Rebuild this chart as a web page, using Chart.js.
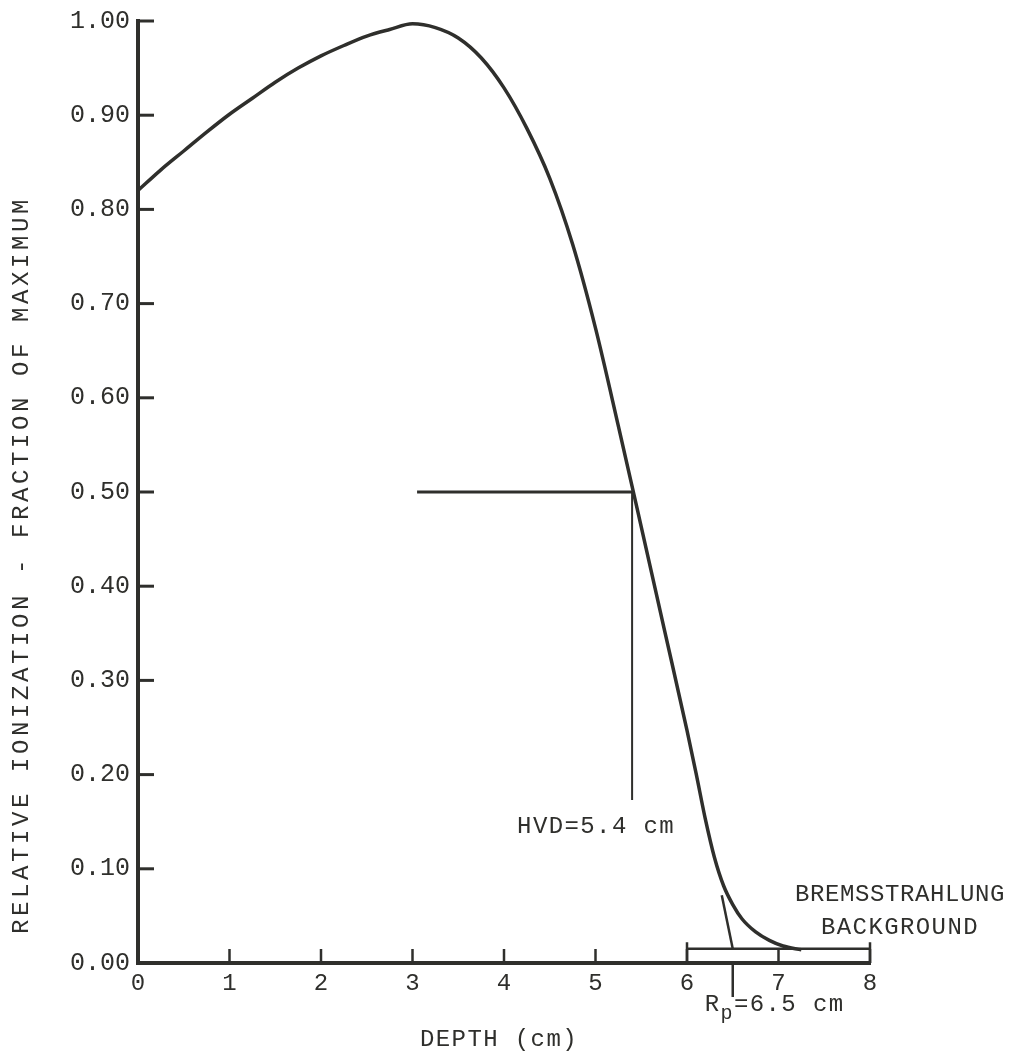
<!DOCTYPE html>
<html>
<head>
<meta charset="utf-8">
<script src="https://cdn.jsdelivr.net/npm/chart.js@4.4.1/dist/chart.umd.min.js"></script>
<style>
  html, body { margin: 0; padding: 0; background: #fff; }
  #wrap { width: 1019px; height: 1064px; position: relative; }
</style>
</head>
<body>
<div id="wrap"><canvas id="grafico"></canvas></div>
<script>
// curva de ionização relativa
const depth = [0, 0.25, 0.5, 0.75, 1.0, 1.25, 1.5, 1.75, 2.0, 2.25, 2.5, 2.75, 3.0, 3.25, 3.5, 3.75, 4.0, 4.25, 4.5, 4.75, 5.0, 5.25, 5.5, 5.75, 6.0, 6.1, 6.2, 6.3, 6.4, 6.5, 6.6, 6.75, 6.9, 7.05, 7.25];
const ionization = [0.82, 0.842, 0.862, 0.882, 0.901, 0.918, 0.935, 0.950, 0.963, 0.974, 0.984, 0.991, 0.997, 0.993, 0.982, 0.961, 0.929, 0.886, 0.833, 0.763, 0.674, 0.570, 0.463, 0.355, 0.247, 0.201, 0.153, 0.112, 0.082, 0.062, 0.047, 0.033, 0.024, 0.018, 0.014];

// marcas auxiliares
const halfX = [3.05, 5.42];          // linha horizontal em 0.50
const halfY = [0.5, 0.5];
const hvdX = [5.4, 5.4];             // HVD = 5.4 cm
const hvdY = [0.5, 0.173];
const tangX = [6.38, 6.5];           // tangente até Rp
const tangY = [0.072, 0.015];
const rpX = [6.5, 6.5];              // Rp = 6.5 cm
const rpY = [0, -0.036];
const bgX = [6, 6, 6, 8, 8, 8];      // fundo de bremsstrahlung
const bgY = [0, 0.022, 0.015, 0.015, 0.022, 0];

// eixos
const xTickLabels = ['0', '1', '2', '3', '4', '5', '6', '7', '8'];
const yTickLabels = ['0.00', '0.10', '0.20', '0.30', '0.40', '0.50', '0.60', '0.70', '0.80', '0.90', '1.00'];

const INK = '#2f2f2c';
const MONO = '"Liberation Mono", "DejaVu Sans Mono", monospace';

function pts(xs, ys) {
  return xs.map((x, i) => ({ x, y: ys[i] }));
}

function segmento(xs, ys, largura) {
  return {
    data: pts(xs, ys),
    borderColor: INK,
    borderWidth: largura,
    pointRadius: 0,
    tension: 0,
    clip: false
  };
}

// ticks internos, títulos e textos
const anotacoes = {
  id: 'anotacoes',
  afterDatasetsDraw(chart) {
    const { ctx, chartArea, scales: { x, y } } = chart;
    ctx.save();
    ctx.strokeStyle = INK;
    ctx.lineCap = 'butt';

    ctx.lineWidth = 3;
    yTickLabels.forEach((_, i) => {
      if (i === 0) return;
      const py = y.getPixelForValue(i / 10);
      ctx.beginPath();
      ctx.moveTo(chartArea.left, py);
      ctx.lineTo(chartArea.left + 16, py);
      ctx.stroke();
    });

    ctx.lineWidth = 2.5;
    xTickLabels.forEach((_, i) => {
      if (i === 0) return;
      const px = x.getPixelForValue(i);
      ctx.beginPath();
      ctx.moveTo(px, chartArea.bottom);
      ctx.lineTo(px, chartArea.bottom - 14);
      ctx.stroke();
    });

    ctx.fillStyle = INK;
    ctx.textBaseline = 'middle';
    ctx.textAlign = 'center';

    // título do eixo y
    ctx.save();
    ctx.font = '24px ' + MONO;
    ctx.letterSpacing = '3.6px';
    ctx.translate(22, 565);
    ctx.rotate(-Math.PI / 2);
    ctx.fillText('RELATIVE IONIZATION - FRACTION OF MAXIMUM', 0, 0);
    ctx.restore();

    ctx.font = '24px ' + MONO;
    ctx.letterSpacing = '1.4px';
    ctx.fillText('DEPTH (cm)', 499, 1040);

    ctx.fillText('HVD=5.4 cm', x.getPixelForValue(hvdX[0]) - 36, y.getPixelForValue(hvdY[1]) + 27);

    ctx.letterSpacing = '0.6px';
    ctx.fillText('BREMSSTRAHLUNG', 900, 895);
    ctx.letterSpacing = '1.4px';
    ctx.fillText('BACKGROUND', 900, 928);

    // Rp com índice
    ctx.textAlign = 'left';
    let rx = x.getPixelForValue(rpX[0]) - 28;
    const ry = 1005;
    ctx.fillText('R', rx, ry);
    rx += ctx.measureText('R').width;
    ctx.font = '20px ' + MONO;
    ctx.fillText('p', rx, ry + 9);
    rx += ctx.measureText('p').width;
    ctx.font = '24px ' + MONO;
    ctx.fillText('=6.5 cm', rx, ry);

    ctx.restore();
  }
};

new Chart(document.getElementById('grafico'), {
  type: 'line',
  data: {
    datasets: [
      {
        data: pts(depth, ionization),
        borderColor: INK,
        borderWidth: 3.5,
        pointRadius: 0,
        cubicInterpolationMode: 'monotone'
      },
      segmento(halfX, halfY, 3),
      segmento(hvdX, hvdY, 2),
      segmento(tangX, tangY, 2.5),
      segmento(rpX, rpY, 2.5),
      segmento(bgX, bgY, 2.5)
    ]
  },
  options: {
    responsive: true,
    maintainAspectRatio: false,
    animation: false,
    layout: { padding: { top: 21, right: 149, left: 0, bottom: 0 } },
    plugins: { legend: { display: false }, tooltip: { enabled: false } },
    scales: {
      x: {
        type: 'linear',
        min: 0,
        max: 8,
        grid: { display: false },
        border: { display: true, color: INK, width: 4 },
        ticks: {
          stepSize: 1,
          padding: -2,
          color: INK,
          font: { family: MONO, size: 24 },
          callback: v => xTickLabels[Math.round(v)]
        },
        afterFit: s => { s.height = 101; }
      },
      y: {
        min: 0,
        max: 1,
        grid: { display: false },
        border: { display: true, color: INK, width: 4 },
        ticks: {
          stepSize: 0.1,
          padding: 0,
          color: INK,
          font: { family: MONO, size: 25 },
          callback: v => yTickLabels[Math.round(v * 10)]
        },
        afterFit: s => { s.width = 138; }
      }
    }
  },
  plugins: [anotacoes]
});
</script>
</body>
</html>
